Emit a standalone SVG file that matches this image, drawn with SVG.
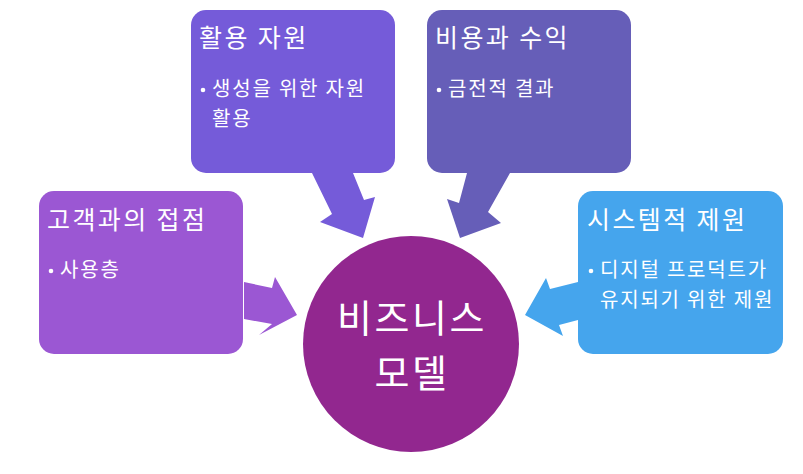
<svg xmlns="http://www.w3.org/2000/svg" width="803" height="474" viewBox="0 0 803 474">
<style>
.t{font-family:"Noto Sans CJK KR","Noto Sans",sans-serif;fill:#fff;}
.h{font-size:25px;letter-spacing:2.4px;}
.b{font-size:20px;letter-spacing:1.8px;}
.c{font-size:38px;text-anchor:middle;letter-spacing:2.5px;}
</style>
<rect width="803" height="474" fill="#fff"/>
<g id="connectors">
<polygon fill="#9B57D3" points="244,282 272,288 275,277 297,315 259,335 272,324 244,319"/>
<polygon fill="#755BD9" points="312,173 353,173 364,200 375,197 363,238 320,222 332,214"/>
<polygon fill="#665EB8" points="467,173 510,173 488,212 501,223 460,238 447,199 459,203"/>
<polygon fill="#45A5ED" points="578,282 550,289 546,278 525,315 563,336 559,325 578,320"/>
</g>
<g id="node-customer">
<rect x="39" y="191" width="204" height="163" rx="15" fill="#9B57D3"/>
<text class="t h" x="47" y="229">고객과의 접점</text>
<circle cx="51" cy="271" r="2.3" fill="#fff"/>
<text class="t b" x="60" y="277">사용층</text>
</g>
<g id="node-resources">
<rect x="191" y="10" width="204" height="163" rx="15" fill="#755BD9"/>
<text class="t h" x="199" y="47">활용 자원</text>
<circle cx="203" cy="90" r="2.3" fill="#fff"/>
<text class="t b" x="212" y="96">생성을 위한 자원</text>
<text class="t b" x="212" y="126">활용</text>
</g>
<g id="node-cost">
<rect x="427" y="10" width="204" height="163" rx="15" fill="#665EB8"/>
<text class="t h" x="435" y="47">비용과 수익</text>
<circle cx="439" cy="90" r="2.3" fill="#fff"/>
<text class="t b" x="448" y="96">금전적 결과</text>
</g>
<g id="node-system">
<rect x="578" y="191" width="205" height="163" rx="15" fill="#45A5ED"/>
<text class="t h" x="587" y="229">시스템적 제원</text>
<circle cx="591" cy="271" r="2.3" fill="#fff"/>
<text class="t b" x="600" y="277">디지털 프로덕트가</text>
<text class="t b" x="600" y="307">유지되기 위한 제원</text>
</g>
<g id="node-center">
<circle cx="411" cy="344" r="108" fill="#92278F"/>
<text class="t c" x="412" y="332">비즈니스</text>
<text class="t c" x="412" y="387">모델</text>
</g>
</svg>
